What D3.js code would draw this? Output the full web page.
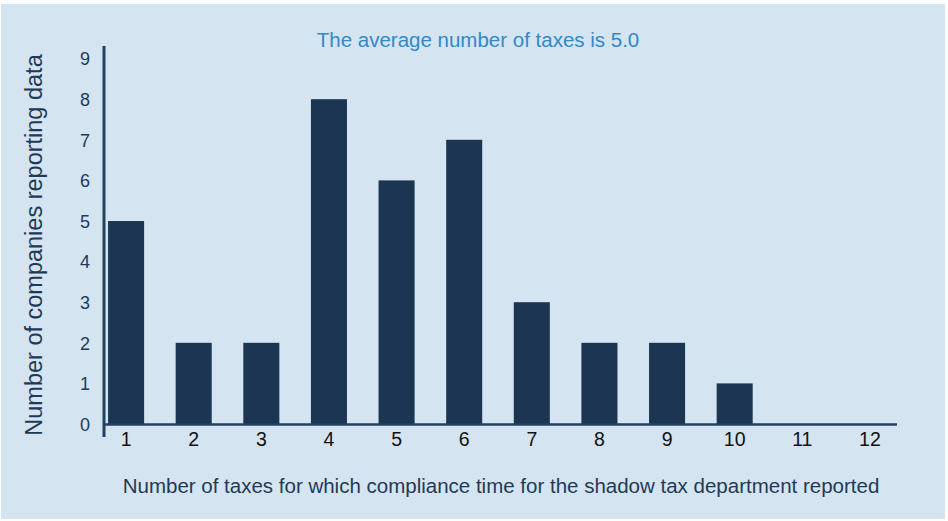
<!DOCTYPE html>
<html><head><meta charset="utf-8">
<script src="https://cdn.jsdelivr.net/npm/d3@7"></script>
<style>body{margin:0;background:#fff;}svg{display:block;font-family:"Liberation Sans",Arial,sans-serif;}</style>
</head><body>
<svg id="c" width="948" height="521"></svg>
<script>
const categories = ["1","2","3","4","5","6","7","8","9","10","11","12"];
const values = [5,2,2,8,6,7,3,2,2,1,0,0];
const yTicks = [0,1,2,3,4,5,6,7,8,9];
const title = "The average number of taxes is 5.0";
const xTitle = "Number of taxes for which compliance time for the shadow tax department reported";
const yTitle = "Number of companies reporting data";

const svg = d3.select("#c");
svg.append("rect").attr("x",1).attr("y",4).attr("width",944).attr("height",515).attr("fill","#d5e4f1");

const left = 104, right = 897, bottom = 424;
const x = d3.scaleBand().domain(categories).range([104, 892]).paddingInner(0.467).paddingOuter(0.06);
const y = d3.scaleLinear().domain([0,9]).range([bottom, bottom-9*40.6]);

const navy = "#1b3553";
svg.selectAll("rect.bar").data(values).enter().append("rect").attr("class","bar")
  .attr("x",(d,i)=>x(categories[i])).attr("width",x.bandwidth())
  .attr("y",d=>y(d)).attr("height",d=>y(0)-y(d)).attr("fill",navy);

// x axis
const xAxis = svg.append("g").attr("transform",`translate(0,${bottom})`)
  .call(d3.axisBottom(x).tickSize(0).tickPadding(8));
xAxis.attr("font-size",null).attr("font-family",null);
xAxis.select(".domain").remove();
xAxis.selectAll("text").style("font-size","19.5px").style("fill","#111");
svg.append("line").attr("x1",left).attr("x2",right).attr("y1",bottom+0.5).attr("y2",bottom+0.5).attr("stroke","#24415f").attr("stroke-width",2.5);

// y axis
const yAxis = svg.append("g").attr("transform",`translate(${left-14},0)`)
  .call(d3.axisLeft(y).tickValues(yTicks).tickSize(0).tickPadding(0));
yAxis.attr("font-size",null).attr("font-family",null);
yAxis.select(".domain").remove();
yAxis.selectAll("text").style("font-size","18px").style("fill","#1f3a57").attr("dy","0.35em");
svg.append("line").attr("x1",left).attr("x2",left).attr("y1",46).attr("y2",437).attr("stroke","#24415f").attr("stroke-width",3);

svg.append("text").attr("x",478).attr("y",47).attr("text-anchor","middle").attr("font-size",20.5).attr("fill","#3388c6").text(title);
svg.append("text").attr("x",501).attr("y",493).attr("text-anchor","middle").attr("font-size",20.5).attr("fill","#1f3a57").text(xTitle);
svg.append("text").attr("transform","translate(42,245) rotate(-90)").attr("text-anchor","middle").attr("font-size",23.5).attr("fill","#1f3a57").text(yTitle);
</script>
</body></html>
